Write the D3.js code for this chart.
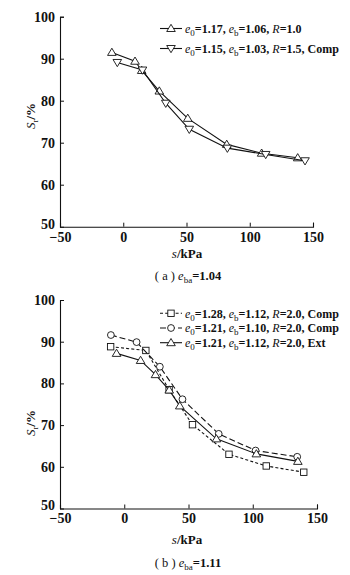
<!DOCTYPE html>
<html>
<head>
<meta charset="utf-8">
<script src="https://cdn.jsdelivr.net/npm/d3@7"></script>
<style>
  html, body { margin: 0; padding: 0; background: #fff; }
  svg { display: block; }
  svg text { font-family: "Liberation Serif", "DejaVu Serif", "Times New Roman", serif !important; fill: #111; }
</style>
</head>
<body>
<svg id="chart" width="350" height="575"></svg>
<script>
// Panel (a): e_ba = 1.04
const sA1 = [-9, 9.3, 14.6, 28.5, 51, 81.8, 109.4, 137.9];
const srA1 = [91.5, 89.4, 87.2, 82.3, 75.8, 69.6, 67.5, 66.4];
const sA2 = [-4.7, 15.2, 33.6, 52.2, 82.3, 112.6, 143.7];
const srA2 = [89.1, 87.3, 79.4, 73.2, 68.7, 67.2, 65.7];

// Panel (b): e_ba = 1.11
const sB1 = [-10.6, 16.8, 34.9, 53.1, 81.5, 110.5, 139.7];
const srB1 = [88.8, 87.9, 78.5, 70.1, 63.0, 60.2, 58.7];
const sB2 = [-10.4, 9.6, 27.7, 45.3, 73.5, 102.2, 134.6];
const srB2 = [91.6, 89.9, 84.0, 76.2, 67.9, 63.9, 62.4];
const sB3 = [-6, 12.7, 24.3, 35, 43.2, 71.7, 102.8, 135.1];
const srB3 = [87.2, 85.5, 82.1, 78.4, 74.6, 66.7, 63.1, 61.3];

const xTicks = [-50, 0, 50, 100, 150];
const yTicks = [50, 60, 70, 80, 90, 100];

const FONT = "'Liberation Serif', 'DejaVu Serif', serif";
const svg = d3.select("#chart").attr("font-family", FONT);

function zip(xs, ys) { return xs.map((x, i) => [x, ys[i]]); }

function drawMarker(g, type, cx, cy) {
  if (type === "up") {
    g.append("path").attr("d", `M${cx},${cy-4.2}L${cx+4.3},${cy+3}L${cx-4.3},${cy+3}Z`)
      .attr("fill", "#fff").attr("stroke", "#111").attr("stroke-width", 0.9);
  } else if (type === "down") {
    g.append("path").attr("d", `M${cx},${cy+4.2}L${cx+4.3},${cy-3}L${cx-4.3},${cy-3}Z`)
      .attr("fill", "#fff").attr("stroke", "#111").attr("stroke-width", 0.9);
  } else if (type === "circle") {
    g.append("circle").attr("cx", cx).attr("cy", cy).attr("r", 3.4)
      .attr("fill", "#fff").attr("stroke", "#111").attr("stroke-width", 0.9);
  } else if (type === "square") {
    g.append("rect").attr("x", cx-3.2).attr("y", cy-3.2).attr("width", 6.4).attr("height", 6.4)
      .attr("fill", "#fff").attr("stroke", "#111").attr("stroke-width", 0.9);
  }
}

function legendLabel(t, e0, eb, r, tag) {
  const parts = [
    ["e", "italic", null], ["0", "normal", "sub"], ["=" + e0 + ", ", "normal", null],
    ["e", "italic", null], ["b", "normal", "sub"], ["=" + eb + ", ", "normal", null],
    ["R", "italic", null], ["=" + r + (tag ? ", " + tag : ""), "normal", null]
  ];
  parts.forEach(([s, style, pos], i) => {
    const ts = t.append("tspan").text(s).attr("font-style", style);
    if (style === "italic") ts.attr("font-weight", "normal");
    if (pos === "sub") ts.attr("dy", 3).attr("font-size", "9px").attr("font-weight", "normal");
    else if (i > 0 && parts[i-1][2] === "sub") ts.attr("dy", -3);
  });
}

function panel(opts) {
  const x = d3.scaleLinear().domain([-50, 150]).range([60, opts.xEnd]);
  const y = d3.scaleLinear().domain([50, 100]).range([opts.yBottom, opts.yTop]);
  const g = svg.append("g");

  // axes (inward ticks)
  const xa = g.append("g").attr("transform", `translate(0,${opts.yBottom})`)
    .call(d3.axisBottom(x).tickValues(xTicks).tickSize(-4).tickPadding(5)
      .tickFormat(d => d < 0 ? "\u2212" + Math.abs(d) : d));
  const ya = g.append("g").attr("transform", `translate(60,0)`)
    .call(d3.axisLeft(y).tickValues(yTicks).tickSize(-4).tickPadding(5));
  [xa, ya].forEach(a => {
    a.attr("font-family", FONT);
    a.select(".domain").attr("stroke", "#111").attr("stroke-width", 1.1);
    a.selectAll(".tick line").attr("stroke", "#111").attr("stroke-width", 1);
    a.selectAll("text").attr("font-size", "14px").attr("font-weight", "bold").attr("fill", "#111");
  });
  xa.selectAll(".tick").filter(d => d === -50).select("line").remove();
  ya.selectAll(".tick").filter(d => d === 50).select("line").remove();
  ya.selectAll(".tick").filter(d => d === 50).select("text").attr("dy", "0.1em");

  // series
  const line = d3.line().x(d => x(d[0])).y(d => y(d[1]));
  opts.series.forEach(s => {
    const pts = zip(s.xs, s.ys);
    g.append("path").attr("d", line(pts)).attr("fill", "none")
      .attr("stroke", "#111").attr("stroke-width", 1.1)
      .attr("stroke-dasharray", s.dash || null);
    pts.forEach(p => drawMarker(g, s.marker, x(p[0]), y(p[1])));
  });

  // legend
  opts.series.forEach((s, i) => {
    const ly = opts.legendY + i * opts.legendGap;
    g.append("line").attr("x1", 160).attr("x2", 182).attr("y1", ly).attr("y2", ly)
      .attr("stroke", "#111").attr("stroke-width", 1.1).attr("stroke-dasharray", s.dash || null);
    drawMarker(g, s.marker, 171, ly);
    const t = g.append("text").attr("x", 185).attr("y", ly + 4.3)
      .attr("font-size", "12px").attr("font-weight", "bold");
    legendLabel(t, s.e0, s.eb, s.r, s.tag);
  });

  // axis titles
  const yl = g.append("text")
    .attr("transform", `translate(35,${opts.yLabel}) rotate(-90)`)
    .attr("text-anchor", "middle").attr("font-size", "13px").attr("font-weight", "bold");
  yl.append("tspan").text("S").attr("font-style", "italic").attr("font-weight", "normal");
  yl.append("tspan").text("r").attr("font-size", "9px").attr("dy", 3).attr("font-weight", "normal");
  yl.append("tspan").text("/%").attr("dy", -3);

  const xl = g.append("text").attr("x", 187).attr("y", opts.xLabel)
    .attr("text-anchor", "middle").attr("font-size", "13px").attr("font-weight", "bold");
  xl.append("tspan").text("s").attr("font-style", "italic").attr("font-weight", "normal");
  xl.append("tspan").text("/kPa");

  const cap = g.append("text").attr("x", 188).attr("y", opts.caption)
    .attr("text-anchor", "middle").attr("font-size", "12.5px").attr("font-weight", "bold");
  cap.append("tspan").text("( " + opts.letter + " ) ").attr("font-weight", "normal");
  cap.append("tspan").text("e").attr("font-style", "italic").attr("font-weight", "normal");
  cap.append("tspan").text("ba").attr("font-size", "9px").attr("dy", 3).attr("font-weight", "normal");
  cap.append("tspan").text("=" + opts.eba).attr("dy", -3);
}

panel({
  xEnd: 313, yTop: 16.7, yBottom: 226.7,
  legendY: 28.5, legendGap: 20, yLabel: 116, xLabel: 258, caption: 280,
  letter: "a", eba: "1.04",
  series: [
    { xs: sA1, ys: srA1, marker: "up", e0: "1.17", eb: "1.06", r: "1.0", tag: null },
    { xs: sA2, ys: srA2, marker: "down", e0: "1.15", eb: "1.03", r: "1.5", tag: "Comp" }
  ]
});

panel({
  xEnd: 317, yTop: 300, yBottom: 508.5,
  legendY: 313.3, legendGap: 14.7, yLabel: 423, xLabel: 544, caption: 567,
  letter: "b", eba: "1.11",
  series: [
    { xs: sB1, ys: srB1, marker: "square", dash: "3,2.2", e0: "1.28", eb: "1.12", r: "2.0", tag: "Comp" },
    { xs: sB2, ys: srB2, marker: "circle", dash: "6,3", e0: "1.21", eb: "1.10", r: "2.0", tag: "Comp" },
    { xs: sB3, ys: srB3, marker: "up", e0: "1.21", eb: "1.12", r: "2.0", tag: "Ext" }
  ]
});
</script>
</body>
</html>
